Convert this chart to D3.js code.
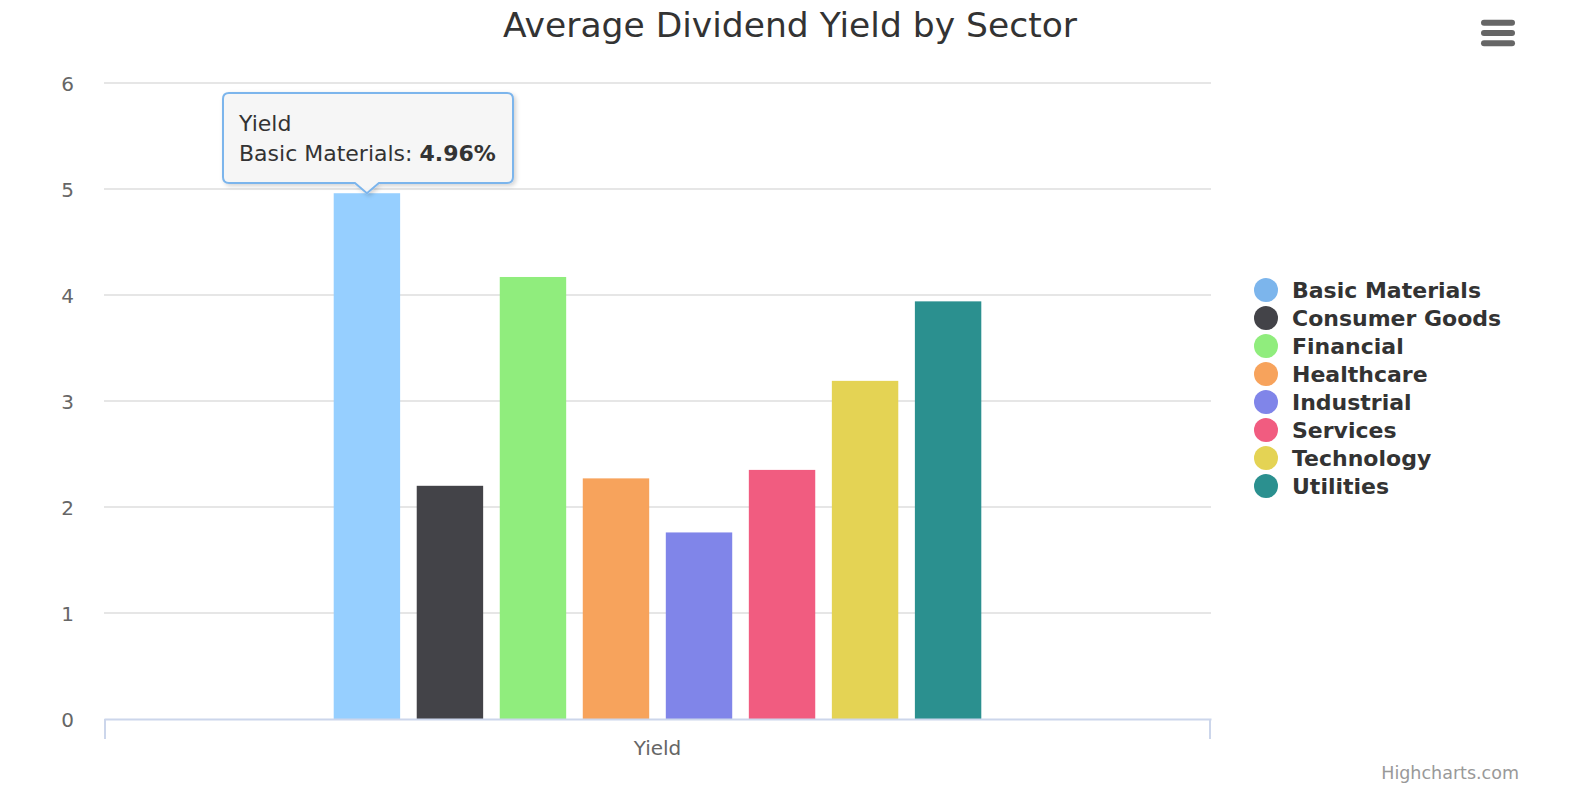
<!DOCTYPE html>
<html><head><meta charset="utf-8">
<script src="https://cdn.jsdelivr.net/npm/d3@7"></script>
<style>html,body{margin:0;padding:0;background:#fff;}svg{display:block;}</style>
</head><body>
<svg id="chart" width="1572" height="802"></svg>
<script>
const title = "Average Dividend Yield by Sector";
const category = ["Yield"];
const sectors = ["Basic Materials","Consumer Goods","Financial","Healthcare","Industrial","Services","Technology","Utilities"];
const yields = [4.96, 2.20, 4.17, 2.27, 1.76, 2.35, 3.19, 3.94];
const colors = ["#7cb5ec","#434348","#90ed7d","#f7a35c","#8085e9","#f15c80","#e4d354","#2b908f"];
const yTicks = [0,1,2,3,4,5,6];
const hoverIndex = 0;

const font = "'DejaVu Sans', 'Lucida Grande', Verdana, sans-serif";
const svg = d3.select("#chart");
const m = {left:104, right:1211, top:83, bottom:719};

const y = d3.scaleLinear().domain([0,6]).range([m.bottom, m.top]);
const xCat = d3.scaleBand().domain(category).range([m.left, m.right]).paddingInner(0).paddingOuter(0);
const xSeries = d3.scaleBand().domain(sectors)
  .range([xCat(category[0]) + xCat.bandwidth()*0.2, xCat(category[0]) + xCat.bandwidth()*0.8])
  .paddingInner(0.2).paddingOuter(0.1);

// Title
svg.append("text").attr("x", 790).attr("y", 37).attr("text-anchor","middle")
  .attr("font-family", font).attr("font-size", 34.5).attr("fill","#333").text(title);

// Grid
const gridG = svg.append("g");
gridG.selectAll("line").data(yTicks.filter(d=>d>0)).join("line")
  .attr("x1", m.left).attr("x2", m.right)
  .attr("y1", d=>y(d)).attr("y2", d=>y(d))
  .attr("stroke","#e6e6e6").attr("stroke-width",2);

// Y axis labels
const yAxis = d3.axisLeft(y).tickValues(yTicks).tickSize(0).tickPadding(0).tickFormat(d3.format("d"));
const yG = svg.append("g").attr("transform", `translate(74,0)`).call(yAxis);
yG.select(".domain").remove();
yG.selectAll("text").attr("font-family", font).attr("font-size", 20).attr("fill","#666").attr("dy","0.35em");

// Bars
function brighten(c, a){ const h = d3.rgb(c); return d3.rgb(Math.min(255,h.r+255*a), Math.min(255,h.g+255*a), Math.min(255,h.b+255*a)).formatHex(); }
svg.append("g").selectAll("rect").data(sectors).join("rect")
  .attr("x", d=>xSeries(d)).attr("width", xSeries.bandwidth())
  .attr("y", (d,i)=>y(yields[i])).attr("height", (d,i)=>y(0)-y(yields[i]))
  .attr("fill", (d,i)=> i===hoverIndex ? brighten(colors[i],0.1) : colors[i]);

// X axis
const xAxis = d3.axisBottom(xCat).tickSize(0).tickPadding(0);
const xG = svg.append("g").attr("transform", `translate(0,${m.bottom})`).call(xAxis);
xG.select(".domain").attr("stroke","#ccd6eb").attr("stroke-width",2);
xG.selectAll(".tick line").remove();
xG.selectAll("text").attr("font-family", font).attr("font-size", 20).attr("fill","#666").attr("y", 36).attr("dy",0);
// boundary ticks
xG.append("g").selectAll("line").data(xCat.range()).join("line")
  .attr("x1", d=>d===m.left? d+1 : d-1).attr("x2", d=>d===m.left? d+1 : d-1)
  .attr("y1",0).attr("y2",20).attr("stroke","#ccd6eb").attr("stroke-width",2);

// Legend
const lg = svg.append("g");
sectors.forEach((s,i)=>{
  const cy = 290 + i*28;
  lg.append("circle").attr("cx",1266).attr("cy",cy).attr("r",12).attr("fill",colors[i]);
  lg.append("text").attr("x",1292).attr("y",cy+8).attr("font-family",font).attr("font-weight","bold")
    .attr("font-size",22).attr("fill","#333").text(s);
});

// Tooltip
const defs = svg.append("defs");
const f = defs.append("filter").attr("id","shadow").attr("x","-20%").attr("y","-20%").attr("width","140%").attr("height","150%");
f.append("feDropShadow").attr("dx",2).attr("dy",2).attr("stdDeviation",2).attr("flood-color","#000").attr("flood-opacity",0.18);
const px = xSeries(sectors[hoverIndex]) + xSeries.bandwidth()/2;
const py = y(yields[hoverIndex]);
const bx = 223, by = 93, bw = 290, bh = 90, r = 6;
const tip = svg.append("g");
const path = `M${bx+r},${by} L${bx+bw-r},${by} Q${bx+bw},${by} ${bx+bw},${by+r} L${bx+bw},${by+bh-r} Q${bx+bw},${by+bh} ${bx+bw-r},${by+bh}
 L${px+12},${by+bh} L${px},${py} L${px-12},${by+bh} L${bx+r},${by+bh} Q${bx},${by+bh} ${bx},${by+bh-r} L${bx},${by+r} Q${bx},${by} ${bx+r},${by} Z`;
tip.append("path").attr("d",path).attr("fill","rgba(247,247,247,0.9)").attr("stroke",colors[hoverIndex]).attr("stroke-width",2).attr("filter","url(#shadow)");
tip.append("text").attr("x",239).attr("y",131).attr("font-family",font).attr("font-size",22).attr("fill","#333").text(category[0]);
const t2 = tip.append("text").attr("x",239).attr("y",161).attr("font-family",font).attr("font-size",22).attr("fill","#333");
t2.append("tspan").text(sectors[hoverIndex] + ": ");
t2.append("tspan").attr("font-weight","bold").text(yields[hoverIndex].toFixed(2) + "%");

// Menu icon
const menu = svg.append("g");
[22.7, 33, 43.3].forEach(yy=>{
  menu.append("line").attr("x1",1484).attr("x2",1512).attr("y1",yy).attr("y2",yy)
    .attr("stroke","#666").attr("stroke-width",6).attr("stroke-linecap","round");
});

// Credits
svg.append("text").attr("x",1519).attr("y",779).attr("text-anchor","end").attr("font-family",font)
  .attr("font-size",17.5).attr("fill","#999").text("Highcharts.com");
</script>
</body></html>
